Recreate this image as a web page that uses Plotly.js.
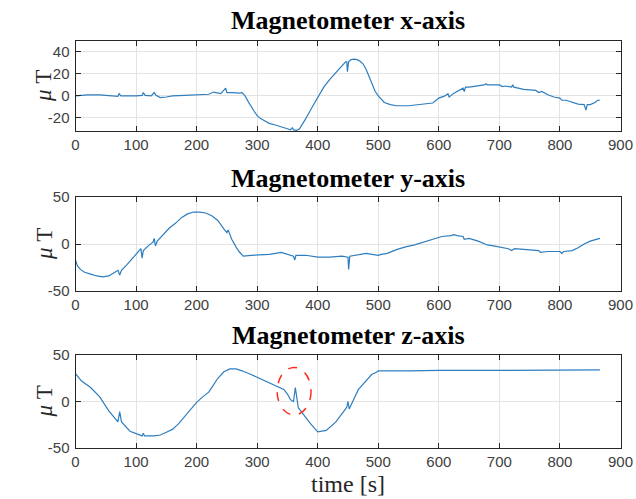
<!DOCTYPE html>
<html>
<head>
<meta charset="utf-8">
<script src="https://cdn.plot.ly/plotly-3.0.1.min.js"></script>
<style>html,body{margin:0;padding:0;background:#fff;}#chart{width:636px;height:499px;}</style>
</head>
<body>
<div id="chart"></div>
<script>
// ---- data ----
const tX = [0,10,20,40,60,70,72,75,100,110,112,115,125,130,133,140,150,160,180,200,210,220,228,240,248,250,260,270,275,280,285,290,295,300,305,310,320,330,340,350,355,358,360,365,370,375,380,390,400,410,420,430,440,446,448,449,451,455,460,465,470,475,480,485,490,495,500,505,510,520,530,550,570,580,590,600,610,615,617,625,635,640,642,644,650,660,675,678,680,700,705,710,720,722,724,740,760,765,770,780,790,800,803,810,820,830,840,843,845,850,858,862,866];
const magX = [0,0.5,1,1,0,-0.5,2,0,0,0.5,3,0.5,0,3,0.5,-1.5,-1,0,0.5,1,1.5,1.5,3.5,2,7,3,3,2.5,3,0,-5,-10,-14,-18,-20.5,-22,-25,-26.5,-28,-30,-31,-29,-31,-31.5,-30,-26,-21,-11,-1,8,15,21,27,31,31,22,31,33,33.5,33,31.5,29,24,17,10,4,0,-3,-6,-8,-9,-9,-8,-7,-6.5,-2,0,2,-1,2.5,5,7,4,8,8,9,10,11,10,10,8.5,9,8,10,8,6,5,3,4,1,-1,-2,-4,-4,-6,-7.5,-8,-13,-8,-8,-6,-4,-4];

const tY = [0,3,8,15,25,35,45,55,65,70,73,76,85,95,105,108,110,112,120,128,130,132,135,145,155,165,175,185,195,205,215,225,235,245,250,252,258,265,270,277,290,320,340,360,362,364,380,400,420,440,450,451,453,480,500,505,515,530,545,560,575,590,605,620,625,630,640,642,650,665,680,690,700,715,720,725,745,765,768,780,800,803,806,820,830,840,850,860,866];
const magY = [-17,-23,-27,-30,-32,-34,-35,-34,-30,-28,-33,-28,-22,-15,-7,-5,-15,-7,-2,2,6,-2,3,10,17,22,28,32,34,34,33,30,25,16,12,15,5,-3,-8,-13,-12,-11,-9,-13,-17,-12,-12,-14,-14,-13,-14,-27,-13,-10,-12,-11,-10,-6,-3,-1,2,5,8,9,10,9,8,5,6,3,-1,-2,-3,-5,-7,-5,-6,-7,-9,-8,-8,-10,-8,-7,-4,0,3,5,6];

const tZ = [0,10,25,40,55,70,73,76,90,110,112,114,130,140,150,160,170,180,190,200,210,220,225,235,245,255,265,275,290,300,320,332,344,350,355,360,363,368,372,387,400,414,430,446,448,450,452,467,489,497,500,550,600,700,800,866];
const magZ = [30,22,15,5,-10,-22,-11,-22,-32,-37,-34,-37,-37,-36,-33,-30,-24,-16,-8,-1,5,10,15,25,32,35,35,33,29,26,20,16,13,8,2,0,15,-7,-10,-23,-32.6,-31,-22,-8,-6,0,-8,12.7,29,31.5,33,33,33.5,33.5,33.5,34];

const titles = ["Magnetometer x-axis","Magnetometer y-axis","Magnetometer z-axis"];
const xTicks = [0,100,200,300,400,500,600,700,800,900];
const yTicks1 = [-20,0,20,40];
const yTicks23 = [-50,0,50];
const yLabel = "<i>μ</i> T";
const xLabel = "time [s]";
// highlighted region (dashed ellipse) on z panel: [t0, t1, v0, v1]
const highlight = [333, 389, -14.5, 36.6];

// ---- layout ----
const W = 636, H = 499;
const L = 75.5, R = 620.5;
const panels = [[41,131],[197,291],[355,448]]; // top,bottom pixels
const lineColor = '#2e7ebf';
const axColor = '#262626';

function yd(p){ return [1 - p[1]/H, 1 - p[0]/H]; }

const traces = [
  {x:tX, y:magX, xaxis:'x', yaxis:'y'},
  {x:tY, y:magY, xaxis:'x2', yaxis:'y2'},
  {x:tZ, y:magZ, xaxis:'x3', yaxis:'y3'}
].map(t => Object.assign(t, {type:'scatter', mode:'lines', line:{color:lineColor, width:1.2}, hoverinfo:'skip'}));

const tickFont = {family:'Liberation Sans, Arial, sans-serif', size:15, color:'#404040'};
function xa(anchor){
  return {domain:[L/W, R/W], range:[0,900], tickvals:xTicks, ticktext:xTicks.map(String),
    anchor:anchor, showgrid:true, gridcolor:'#e3e3e3', gridwidth:1, zeroline:false,
    showline:true, linecolor:axColor, linewidth:1, mirror:'allticks', ticks:'inside', ticklen:5, tickcolor:axColor,
    tickfont:tickFont, fixedrange:true};
}
function ya(anchor, p, range, ticks){
  return {domain:yd(p), range:range, tickvals:ticks, ticktext:ticks.map(String), anchor:anchor,
    showgrid:true, gridcolor:'#e3e3e3', gridwidth:1, zeroline:false,
    showline:true, linecolor:axColor, linewidth:1, mirror:'allticks', ticks:'inside', ticklen:5, tickcolor:axColor,
    tickfont:tickFont, ticklabelstandoff:2, fixedrange:true};
}

const annotations = [];
const titleY = [20, 178, 335];
titles.forEach((t,i)=>{
  annotations.push({text:'<b>'+t+'</b>', xref:'paper', yref:'paper', x:(L+R)/2/W, y:1-titleY[i]/H,
    xanchor:'center', yanchor:'middle', showarrow:false,
    font:{family:'Liberation Serif, Times New Roman, serif', size:26, color:'#000'}});
  const p = panels[i];
  annotations.push({text:yLabel, xref:'paper', yref:'paper', x:44/W, y:1-((p[0]+p[1])/2)/H,
    xanchor:'center', yanchor:'middle', showarrow:false, textangle:-90,
    font:{family:'Liberation Serif, Times New Roman, serif', size:23, color:'#262626'}});
});
annotations.push({text:xLabel, xref:'paper', yref:'paper', x:(L+R)/2/W, y:1-484/H,
  xanchor:'center', yanchor:'middle', showarrow:false,
  font:{family:'Liberation Serif, Times New Roman, serif', size:24, color:'#262626'}});

const layout = {
  width:W, height:H, margin:{l:0,r:0,t:0,b:0}, paper_bgcolor:'#fff', plot_bgcolor:'#fff', showlegend:false,
  xaxis:xa('y'), yaxis:ya('x', panels[0], [-32,50], yTicks1),
  xaxis2:xa('y2'), yaxis2:ya('x2', panels[1], [-50,50], yTicks23),
  xaxis3:xa('y3'), yaxis3:ya('x3', panels[2], [-50,50], yTicks23),
  annotations:annotations,
  shapes:[{type:'circle', xref:'x3', yref:'y3', x0:highlight[0], x1:highlight[1], y0:highlight[2], y1:highlight[3],
    line:{color:'#ff2a1a', width:1.5, dash:'dash'}}]
};

Plotly.newPlot('chart', traces, layout, {displayModeBar:false, staticPlot:true});
</script>
</body>
</html>
